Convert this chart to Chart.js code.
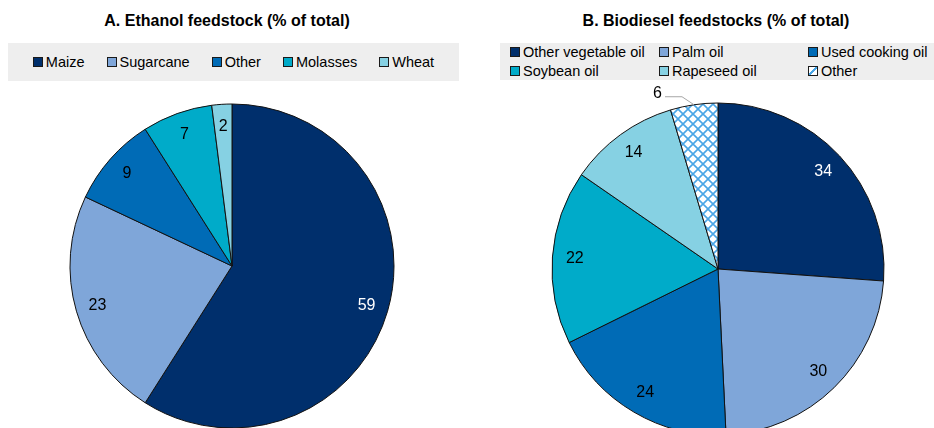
<!DOCTYPE html>
<html>
<head>
<meta charset="utf-8">
<script src="https://cdn.jsdelivr.net/npm/chart.js@4/dist/chart.umd.min.js"></script>
<style>
  html, body { margin: 0; padding: 0; background: #fff; }
  body { width: 934px; height: 428px; overflow: hidden; position: relative;
         font-family: "Liberation Sans", Arial, sans-serif; color: #000; }
  .title { position: absolute; top: 11px; font-weight: bold; font-size: 16.5px;
           white-space: nowrap; transform: translateX(-50%) scaleX(0.97); z-index: 2; }
  .legend { position: absolute; background: #eeeeee; font-size: 14.5px; z-index: 2; }
  .legend .item { display: flex; align-items: center; white-space: nowrap; }
  .legend .box { width: 8px; height: 8px; border: 1px solid #1a1a1a; margin-right: 3px; flex: none; }
  #legendA { left: 8px; top: 43px; width: 451px; height: 38px;
             display: flex; justify-content: center; align-items: center; gap: 22px; }
  #legendB { left: 500px; top: 43px; width: 434px; height: 37px;
             display: grid; grid-template-columns: 149px 149px 136px; align-content: center;
             padding-left: 10px; box-sizing: border-box; row-gap: 3px; line-height: 16px; }
  canvas { position: absolute; z-index: 1; }
</style>
</head>
<body>
<div class="title" style="left:227px">A. Ethanol feedstock (% of total)</div>
<div class="title" style="left:716px">B. Biodiesel feedstocks (% of total)</div>
<div class="legend" id="legendA"></div>
<div class="legend" id="legendB"></div>
<canvas id="pieA" width="400" height="400" style="left:32px; top:66px"></canvas>
<canvas id="pieB" width="400" height="400" style="left:518px; top:69px"></canvas>
<script>
// Ethanol feedstock shares
const ethanolLabels = ["Maize", "Sugarcane", "Other", "Molasses", "Wheat"];
const ethanolValues = [59, 23, 9, 7, 2];

// Biodiesel feedstock shares
const biodieselLabels = ["Other vegetable oil", "Palm oil", "Used cooking oil", "Soybean oil", "Rapeseed oil", "Other"];
const biodieselValues = [34, 30, 24, 22, 14, 6];

const navy = "#002f6c";
const lightBlue = "#7fa6d9";
const midBlue = "#006bb6";
const teal = "#00abc9";
const paleTeal = "#86d1e3";
const hatchBlue = "#4aa6e6";

// white tile with a blue diagonal cross-hatch
function makeHatch() {
  const size = 10;
  const tile = document.createElement("canvas");
  tile.width = size;
  tile.height = size;
  const c = tile.getContext("2d");
  c.fillStyle = "#fff";
  c.fillRect(0, 0, size, size);
  c.strokeStyle = hatchBlue;
  c.lineWidth = 1.6;
  c.beginPath();
  c.moveTo(-1, -1); c.lineTo(size + 1, size + 1);
  c.moveTo(size + 1, -1); c.lineTo(-1, size + 1);
  c.stroke();
  return tile;
}
const hatchTile = makeHatch();
const hatch = document.getElementById("pieB").getContext("2d").createPattern(hatchTile, "repeat");

const ethanolColors = [navy, lightBlue, midBlue, teal, paleTeal];
const biodieselColors = [navy, lightBlue, midBlue, teal, paleTeal, hatch];

function buildLegend(el, labels, colors) {
  labels.forEach((label, i) => {
    const item = document.createElement("div");
    item.className = "item";
    const box = document.createElement("span");
    box.className = "box";
    if (typeof colors[i] === "string") {
      box.style.background = colors[i];
    } else {
      box.style.background = "linear-gradient(135deg, #fff 40%, " + hatchBlue + " 40%, " + hatchBlue + " 60%, #fff 60%)";
    }
    item.append(box, document.createTextNode(label));
    el.append(item);
  });
}
buildLegend(document.getElementById("legendA"), ethanolLabels, ethanolColors);
buildLegend(document.getElementById("legendB"), biodieselLabels, biodieselColors);

// value labels inside the slices, or outside with a leader line
const sliceLabels = {
  id: "sliceLabels",
  afterDatasetsDraw(chart, args, opts) {
    const ctx = chart.ctx;
    const meta = chart.getDatasetMeta(0);
    const values = chart.data.datasets[0].data;
    ctx.save();
    ctx.font = '16px "Liberation Sans", Arial, sans-serif';
    meta.data.forEach((arc, i) => {
      const p = arc.getProps(["x", "y", "startAngle", "endAngle", "outerRadius"], true);
      const mid = (p.startAngle + p.endAngle) / 2;
      const text = String(values[i]);
      if ((opts.outside || []).includes(i)) {
        const ex = p.x + Math.cos(mid) * p.outerRadius;
        const ey = p.y + Math.sin(mid) * p.outerRadius;
        const kx = ex - 12, ky = ey - 8;
        const tx = kx - 17;
        ctx.strokeStyle = "#a6a6a6";
        ctx.lineWidth = 1;
        ctx.beginPath();
        ctx.moveTo(ex, ey);
        ctx.lineTo(kx, ky);
        ctx.lineTo(tx, ky);
        ctx.stroke();
        ctx.fillStyle = "#000";
        ctx.textAlign = "right";
        ctx.textBaseline = "alphabetic";
        ctx.fillText(text, tx - 3, ky + 1);
      } else {
        const r = p.outerRadius * 0.865;
        ctx.fillStyle = i === 0 ? "#fff" : "#000";
        ctx.textAlign = "center";
        ctx.textBaseline = "middle";
        ctx.fillText(text, p.x + Math.cos(mid) * r, p.y + Math.sin(mid) * r);
      }
    });
    ctx.restore();
  }
};

function makePie(id, labels, values, colors, radius, outside) {
  return new Chart(document.getElementById(id), {
    type: "pie",
    data: {
      labels: labels,
      datasets: [{
        data: values,
        backgroundColor: colors,
        borderColor: "#111",
        borderWidth: 1
      }]
    },
    options: {
      responsive: false,
      animation: false,
      events: [],
      radius: radius,
      layout: { padding: 0 },
      plugins: {
        legend: { display: false },
        tooltip: { enabled: false },
        sliceLabels: { outside: outside }
      }
    },
    plugins: [sliceLabels]
  });
}

makePie("pieA", ethanolLabels, ethanolValues, ethanolColors, 162, []);
makePie("pieB", biodieselLabels, biodieselValues, biodieselColors, 166, [5]);
</script>
</body>
</html>
